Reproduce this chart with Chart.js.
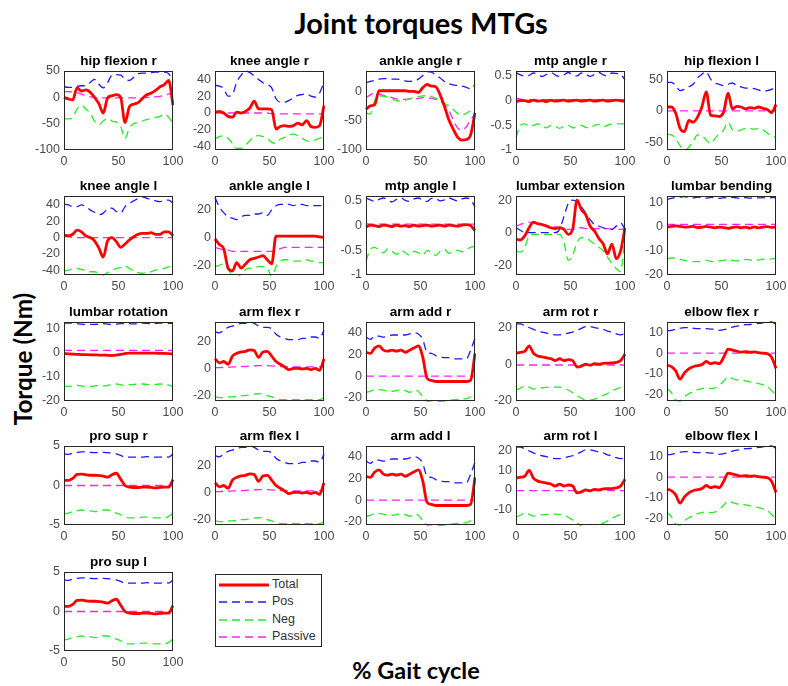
<!DOCTYPE html>
<html>
<head>
<meta charset="utf-8">
<title>Joint torques MTGs</title>
<script src="https://cdn.jsdelivr.net/npm/chart.js@4.4.1/dist/chart.umd.min.js"></script>
<style>
    body { margin: 0; background: #fff; }
    #figure { position: relative; width: 788px; height: 686px; overflow: hidden; background: #fff; }
    #figure canvas { position: absolute; }
    .label { position: absolute; font-family: Lato, "Open Sans", sans-serif; font-weight: bold; color: #000; white-space: nowrap; line-height: 1; }
    #figTitle { left: 421px; top: 8px; font-size: 29px; transform: translateX(-50%); }
    #xLabel { left: 416px; top: 659px; font-size: 23.5px; transform: translateX(-50%); }
    #yLabel { left: 23px; top: 359px; font-size: 24.3px; transform: translate(-50%, -50%) rotate(-90deg); }
    #legend { position: absolute; left: 215px; top: 574px; width: 107px; height: 73px; box-sizing: border-box; border: 1px solid #262626; background: #fff; }
    .legend-row { position: absolute; left: 0; height: 17px; width: 105px; }
    .legend-row svg { position: absolute; left: 2px; top: 0; }
    .legend-row span { position: absolute; left: 56px; top: 1px; font-family: "Liberation Sans", Arial, sans-serif; font-size: 12.5px; color: #333; line-height: 15px; }
</style>
</head>
<body>
<div id="figure">
    <div id="figTitle" class="label">Joint torques MTGs</div>
    <div id="xLabel" class="label">% Gait cycle</div>
    <div id="yLabel" class="label">Torque (Nm)</div>
    <div id="legend"></div>
</div>
<script>
// gait cycle samples, every 4 %
const gaitPct = [0, 4, 8, 12, 16, 20, 24, 28, 32, 36, 40, 44, 48, 52, 56, 60, 64, 68, 72, 76, 80, 84, 88, 92, 96, 100];

const hipFlexRTotal = [0, -3, -5, 18, 12, 14, 10, 0, -12, -30, -1, 3, 5, 0, -48, -18, -13, -10, -2, 5, 8, 13, 20, 24, 32, -15];
const hipFlexRPos = [20, 19, 19, 21, 22, 22, 28, 34, 25, 18, 28, 42, 43, 42, 35, 32, 38, 45, 46, 46, 47, 48, 48, 48, 45, 28];
const hipFlexRNeg = [-41, -41, -38, -22, -15, -22, -30, -45, -52, -45, -40, -45, -47, -55, -78, -58, -50, -48, -45, -42, -40, -38, -36, -32, -38, -50];
const hipFlexRPassive = [11, 11, 10, 9, 6, 3, 1, 0, -1, -1, -1, -1, -1, -1, -1, -1, -1, -1, -1, 0, 0, 1, 2, 4, 6, 8];

const kneeRTotal = [1, 2, 0, -4, -5, 1, 0, 2, 6, 14, 5, 5, 5, 4, -19, -16, -15, -16, -15, -12, -14, -9, -16, -17, -15, 9];
const kneeRPos = [33, 32, 29, 20, 22, 37, 45, 50, 48, 44, 40, 36, 34, 30, 17, 13, 13, 15, 18, 21, 22, 23, 20, 19, 24, 37];
const kneeRNeg = [-31, -28, -27, -30, -36, -42, -42, -38, -33, -28, -27, -28, -30, -35, -36, -31, -29, -26, -25, -27, -30, -33, -34, -32, -30, -27];
const kneeRPassive = [0, 0, 0, 0, 0, 0, 0, 0, 0, 0, 0, 0, 0, -1, -1, -1, -1, -1, -1, -1, -1, -1, -1, -1, -1, -1];

const ankleRTotal = [-30, -24, -22, 2, 2, 2, 2, 2, 2, 2, 1, 1, -1, 7, 13, 10, 9, -5, -25, -48, -64, -78, -83, -82, -74, -36];
const ankleRPos = [16, 18, 20, 22, 23, 23, 22, 22, 21, 19, 18, 19, 22, 28, 35, 34, 29, 24, 18, 14, 12, 11, 10, 8, 5, 13];
const ankleRNeg = [-36, -38, -15, -7, -7, -9, -12, -15, -16, -14, -12, -10, -8, -7, -6, -8, -11, -15, -20, -24, -30, -37, -40, -37, -32, -28];
const ankleRPassive = [-10, -5, -2, -4, -6, -8, -10, -12, -13, -13, -12, -12, -11, -10, -10, -11, -13, -16, -22, -32, -48, -62, -66, -60, -48, -38];

const mtpRTotal = [-0.02, 0, 0, -0.02, 0.01, -0.01, 0, -0.02, 0.01, -0.01, 0, 0.01, -0.01, 0, 0.01, -0.01, 0, 0.01, -0.01, 0, 0.01, -0.01, 0, 0.01, 0, -0.02];
const mtpRPos = [0.57, 0.52, 0.5, 0.51, 0.56, 0.53, 0.49, 0.53, 0.57, 0.52, 0.49, 0.52, 0.57, 0.52, 0.5, 0.56, 0.54, 0.49, 0.53, 0.57, 0.52, 0.5, 0.56, 0.55, 0.53, 0.42];
const mtpRNeg = [-0.75, -0.5, -0.47, -0.52, -0.5, -0.47, -0.52, -0.55, -0.5, -0.52, -0.56, -0.52, -0.5, -0.55, -0.53, -0.5, -0.54, -0.55, -0.5, -0.48, -0.53, -0.5, -0.47, -0.47, -0.47, -0.47];
const mtpRPassive = [0.05, 0.03, 0.02, 0.02, 0.02, 0.02, 0.02, 0.02, 0.02, 0.02, 0.02, 0.02, 0.02, 0.02, 0.02, 0.02, 0.02, 0.02, 0.02, 0.02, 0.02, 0.02, 0.02, 0.02, 0.02, 0.02];

const hipFlexLTotal = [6, 6, -4, -28, -33, -15, -18, -10, 6, 30, -7, -8, -9, -2, 28, 3, 7, 6, 3, 5, 4, 6, 4, 2, -3, 10];
const hipFlexLPos = [45, 45, 40, 32, 34, 38, 42, 52, 58, 62, 50, 44, 42, 40, 42, 44, 40, 38, 36, 36, 35, 33, 31, 32, 34, 38];
const hipFlexLNeg = [-37, -38, -44, -55, -62, -58, -48, -38, -40, -46, -52, -44, -36, -30, -18, -30, -32, -30, -28, -28, -29, -28, -30, -35, -40, -42];
const hipFlexLPassive = [0, 0, 0, 0, 0, 0, 0, 0, 0, 0, 0, 0, 0, 0, 0, 0, 0, 0, 0, 0, 0, 0, 0, 0, 0, 0];

const kneeLTotal = [3, 2, 4, 9, 7, 2, 0, -4, -13, -24, -4, 0, -5, -12, -8, -3, 1, 4, 5, 5, 6, 4, 4, 7, 7, 2];
const kneeLPos = [41, 40, 38, 38, 40, 38, 34, 31, 28, 30, 35, 36, 32, 30, 38, 42, 45, 48, 50, 48, 47, 45, 44, 46, 46, 42];
const kneeLNeg = [-41, -40, -39, -38, -39, -41, -42, -42, -44, -46, -43, -40, -38, -37, -35, -38, -41, -43, -44, -43, -42, -40, -39, -38, -36, -35];
const kneeLPassive = [1, 1, 0, 0, 0, 0, 0, 0, 0, 0, 0, 0, 0, 0, 0, 0, 0, 0, 0, 0, 0, 0, 0, 0, 0, 0];

const ankleLTotal = [-1, -5, -8, -22, -24, -18, -22, -19, -16, -15, -14, -13, -16, -19, 1, 1, 1, 1, 1, 1, 1, 1, 1, 1, 0.5, 0];
const ankleLPos = [29, 22, 18, 15, 14, 13, 15, 16, 16, 17, 17, 18, 16, 20, 23, 24, 24, 24, 23, 24, 24, 23, 23, 23, 23, 23];
const ankleLNeg = [-21, -20, -19, -23, -27, -29, -26, -23, -22, -22, -21, -21, -22, -28, -21, -17, -16, -16, -17, -17, -17, -16, -17, -17, -18, -18];
const ankleLPassive = [-7, -8, -9, -9, -10, -10, -10, -10, -10, -10, -10, -10, -10, -10, -9, -8, -7, -7, -7, -7, -7, -7, -7, -7, -7, -7];

const mtpLTotal = [-0.03, 0.01, 0, -0.02, 0.01, 0, -0.02, 0.01, -0.01, 0, -0.02, 0.01, -0.01, 0, 0.01, -0.01, 0, 0.01, -0.01, 0.01, 0, -0.01, 0.01, 0.02, 0, -0.1];
const mtpLPos = [0.56, 0.52, 0.49, 0.53, 0.56, 0.51, 0.48, 0.53, 0.56, 0.51, 0.49, 0.54, 0.56, 0.51, 0.49, 0.55, 0.55, 0.5, 0.52, 0.56, 0.53, 0.5, 0.54, 0.56, 0.52, 0.38];
const mtpLNeg = [-0.72, -0.48, -0.44, -0.5, -0.55, -0.47, -0.52, -0.58, -0.5, -0.55, -0.6, -0.52, -0.55, -0.6, -0.5, -0.55, -0.6, -0.52, -0.48, -0.56, -0.52, -0.5, -0.53, -0.48, -0.44, -0.42];
const mtpLPassive = [0.04, 0.03, 0.03, 0.03, 0.03, 0.03, 0.03, 0.03, 0.03, 0.03, 0.03, 0.03, 0.03, 0.03, 0.03, 0.03, 0.03, 0.03, 0.03, 0.03, 0.03, 0.03, 0.03, 0.03, 0.03, 0.03];

const lumbarExtTotal = [-4, -4.5, -2, 3, 6.5, 5.5, 5, 4, 3, 2.5, 3, 2, -1, 2, 20, 14, 11, 4, 1, -3.5, -7, -13, -7, -16, -11, 3];
const lumbarExtPos = [3, 1.5, 0, 0, 0, 0, 0, 0, 0, 0, 2, 10, 18, 20, 19, 16, 12, 8, 5, 4, 3, 2, 2, 4, 6, 2];
const lumbarExtNeg = [-11, -12, -9, -2, -1, -1, -1, -1, -1, -1, -1, -6, -17, -14, -6, -3, -3, -5, -7, -9, -11, -15, -19, -22, -24, 0];
const lumbarExtPassive = [4, 5, 6, 6.5, 6, 5.5, 5, 4.5, 4, 3.5, 3, 2.5, 2, 2, 3, 3, 2.5, 2.5, 2.5, 2.5, 2.5, 2.5, 2, 2, 2, 2];

const lumbarBendTotal = [-0.3, 0, 0.2, 0, -0.3, -0.2, 0, -0.5, -0.3, 0, -0.3, -0.6, -0.3, -0.5, -0.8, -0.4, -0.2, -0.6, -0.3, -0.7, -0.2, -0.6, -0.3, -0.1, -0.4, -0.2];
const lumbarBendPos = [11, 11.5, 11.9, 12, 12.3, 11.9, 11.7, 12, 11.8, 11.6, 11.9, 11.7, 11.5, 11.8, 11.6, 11.9, 11.7, 11.5, 11.8, 11.6, 11.9, 11.7, 11.8, 11.6, 11.8, 11.8];
const lumbarBendNeg = [-13.5, -13, -13, -13.5, -14, -14.3, -14.5, -14.5, -14.3, -14, -14.3, -14.5, -14.2, -14, -13.8, -14, -14.2, -14, -13.6, -13.8, -14, -13.8, -13.5, -13.6, -13.4, -13.2];
const lumbarBendPassive = [0.8, 0.8, 0.8, 0.8, 0.8, 0.8, 0.8, 0.8, 0.8, 0.8, 0.8, 0.8, 0.8, 0.8, 0.8, 0.8, 0.8, 0.8, 0.8, 0.8, 0.8, 0.8, 0.8, 0.8, 0.8, 0.8];

const lumbarRotTotal = [-0.5, -0.6, -0.7, -0.8, -0.9, -0.9, -1, -1, -1.1, -1.1, -1.2, -1.3, -1.1, -0.8, -0.5, -0.3, -0.3, -0.3, -0.3, -0.3, -0.3, -0.3, -0.4, -0.4, -0.5, -0.7];
const lumbarRotPos = [12, 12, 12, 11.8, 11.6, 11.5, 11.5, 11.5, 11.6, 11.8, 11.6, 11.5, 11.6, 11.8, 11.9, 11.8, 11.7, 11.8, 12, 11.9, 11.8, 11.9, 12, 12, 11.9, 11.9];
const lumbarRotNeg = [-14, -14, -13.8, -13.6, -13.8, -14, -14, -13.8, -13.6, -13.8, -13.6, -13.3, -13, -13.3, -13.6, -13.3, -13.2, -13, -13, -13.2, -13.3, -13.2, -13, -13.1, -13.5, -14];
const lumbarRotPassive = [0.8, 0.8, 0.8, 0.8, 0.8, 0.8, 0.8, 0.8, 0.8, 0.8, 0.8, 0.8, 0.8, 0.8, 0.8, 0.8, 0.8, 0.8, 0.8, 0.8, 0.8, 0.8, 0.8, 0.8, 0.8, 0.8];

// arm joints: right and left sides give the same curves
const armFlexTotal = [7, 4, 5, 3, 9, 11, 12, 12.5, 13.5, 13, 8, 12, 12.5, 9, 5, 3, 1, -1, 0, 0, -0.5, 0, -1, 0, -1.5, 7];
const armFlexPos = [27, 26, 28, 30, 31, 32, 33, 33, 34, 33, 31, 30, 30, 29, 25, 23, 22, 21, 21, 21, 22, 22, 23, 23, 22, 28];
const armFlexNeg = [-21, -21.5, -21.5, -21, -21, -20.5, -20, -20, -19.5, -19, -18.6, -19, -20, -21, -22, -23, -23, -23, -23, -23, -23, -23, -23, -23, -23, -21.5];
const armFlexPassive = [0.5, 0.5, 0.7, 0.8, 1, 1, 1.2, 1.4, 1.6, 1.8, 2, 2, 2, 1.8, 1.5, 1.3, 1.2, 1, 1, 1, 1, 1, 1, 1, 1, 1];

const armAddTotal = [22, 21, 26, 28, 24, 23, 24, 23, 24, 22, 24, 26, 28, 18, -2, -4, -5, -5, -5, -5, -5, -5, -5, -5, -4, 21];
const armAddPos = [36, 34, 37, 37, 36, 37, 38, 38, 38, 38, 39, 40, 39, 34, 22, 21, 19, 18, 17, 17, 16, 16, 16, 16, 24, 35];
const armAddNeg = [-15, -14, -12.5, -12.5, -13, -13.5, -14, -13.5, -12.5, -13.5, -15, -13, -14, -19, -23, -24, -24, -23.5, -23, -22.5, -22, -21.5, -21, -21, -19, -16];
const armAddPassive = [0, 0, 0, 0, 0, 0, 0, 0, 0, 0, 0, 0, 0, 0, 0, 0, 0, 0, 0, 0, 0, 0, 0, 0, 0, 0];

const armRotTotal = [6, 6.5, 7, 10, 6, 4.5, 4, 3.5, 3, 2, 3, 2, 2.5, 2, -1.5, -1, 0, -0.5, 0.3, 0, 0.5, 0.6, 0.7, 1, 2, 5.5];
const armRotPos = [22, 22, 21, 20, 19, 18, 17.5, 17, 16.5, 16, 16, 16.5, 17, 17.5, 18.5, 19.5, 20.5, 20.5, 20, 19.5, 19, 18, 17.5, 16.5, 16, 17];
const armRotNeg = [-14, -13, -12, -12.5, -13.5, -13, -12.8, -12.6, -12.5, -12.4, -12.5, -13, -14, -15.5, -17, -18.5, -19.4, -19.5, -19, -18, -17, -16, -14.5, -13.5, -12.5, -11.3];
const armRotPassive = [-0.4, -0.4, -0.4, -0.4, -0.4, -0.4, -0.4, -0.4, -0.4, -0.4, -0.4, -0.4, -0.4, -0.4, -0.4, -0.4, -0.4, -0.4, -0.4, -0.4, -0.4, -0.4, -0.4, -0.4, -0.4, -0.4];

const elbowFlexTotal = [-5.7, -6.5, -8.5, -12.5, -9.5, -7.5, -6.5, -6, -5.5, -4, -5, -4.5, -5, -2, 2, 1.5, 1, 0.5, 0.7, 0.5, 0.6, 0.3, 0, -0.2, -2, -7.3];
const elbowFlexPos = [10.8, 11, 11.5, 12, 12.3, 12.3, 12, 11.8, 11.8, 11.8, 11.6, 11.5, 11, 11.3, 11.8, 12.5, 13, 13.5, 13.7, 13.8, 14, 14.3, 14.6, 15, 15, 13.8];
const elbowFlexNeg = [-17, -19, -22.5, -23, -21, -19.5, -18.5, -17.5, -17, -16.8, -17, -16.8, -15.5, -13.5, -11.5, -12.2, -12.8, -13, -13.3, -13.8, -14.2, -14.6, -15.2, -16, -18, -20];
const elbowFlexPassive = [0, 0, 0, 0, 0, 0, 0, 0, 0, 0, 0, 0, 0, 0, 0, 0, 0, 0, 0, 0, 0, 0, 0, 0, 0, 0];

const proSupTotal = [0.65, 0.65, 0.9, 1.4, 1.45, 1.35, 1.3, 1.3, 1.25, 1.2, 1.05, 1.35, 1.55, 0.8, 0, -0.2, -0.25, -0.25, -0.2, -0.2, -0.25, -0.3, -0.25, -0.2, -0.2, 0.75];
const proSupPos = [4, 3.95, 4.1, 4.2, 4.25, 4.25, 4.2, 4.15, 4.15, 4.2, 4.15, 4.1, 4, 3.8, 3.6, 3.6, 3.6, 3.6, 3.6, 3.65, 3.6, 3.6, 3.6, 3.65, 3.6, 4];
const proSupNeg = [-3.6, -3.5, -3.3, -3.2, -3.1, -3.2, -3.2, -3.3, -3.25, -3.1, -3.1, -3.3, -3.5, -3.7, -4, -4.1, -4.1, -4.1, -4, -4, -4.05, -4.1, -4.1, -4.1, -3.9, -3.5];
const proSupPassive = [0, 0, 0, 0, 0, 0, 0, 0, 0, 0, 0, 0, 0, 0, 0, 0, 0, 0, 0, 0, 0, 0, 0, 0, 0, 0];

// one entry per subplot, in row order
const jointNames = [
    "hip flexion r", "knee angle r", "ankle angle r", "mtp angle r", "hip flexion l",
    "knee angle l", "ankle angle l", "mtp angle l", "lumbar extension", "lumbar bending",
    "lumbar rotation", "arm flex r", "arm add r", "arm rot r", "elbow flex r",
    "pro sup r", "arm flex l", "arm add l", "arm rot l", "elbow flex l",
    "pro sup l"
];
const totalSeries = [hipFlexRTotal, kneeRTotal, ankleRTotal, mtpRTotal, hipFlexLTotal, kneeLTotal, ankleLTotal, mtpLTotal, lumbarExtTotal, lumbarBendTotal, lumbarRotTotal, armFlexTotal, armAddTotal, armRotTotal, elbowFlexTotal, proSupTotal, armFlexTotal, armAddTotal, armRotTotal, elbowFlexTotal, proSupTotal];
const posSeries = [hipFlexRPos, kneeRPos, ankleRPos, mtpRPos, hipFlexLPos, kneeLPos, ankleLPos, mtpLPos, lumbarExtPos, lumbarBendPos, lumbarRotPos, armFlexPos, armAddPos, armRotPos, elbowFlexPos, proSupPos, armFlexPos, armAddPos, armRotPos, elbowFlexPos, proSupPos];
const negSeries = [hipFlexRNeg, kneeRNeg, ankleRNeg, mtpRNeg, hipFlexLNeg, kneeLNeg, ankleLNeg, mtpLNeg, lumbarExtNeg, lumbarBendNeg, lumbarRotNeg, armFlexNeg, armAddNeg, armRotNeg, elbowFlexNeg, proSupNeg, armFlexNeg, armAddNeg, armRotNeg, elbowFlexNeg, proSupNeg];
const passiveSeries = [hipFlexRPassive, kneeRPassive, ankleRPassive, mtpRPassive, hipFlexLPassive, kneeLPassive, ankleLPassive, mtpLPassive, lumbarExtPassive, lumbarBendPassive, lumbarRotPassive, armFlexPassive, armAddPassive, armRotPassive, elbowFlexPassive, proSupPassive, armFlexPassive, armAddPassive, armRotPassive, elbowFlexPassive, proSupPassive];

const yLimits = [
    [-100, 50], [-44, 50], [-100, 36], [-1, 0.6], [-62, 63],
    [-46, 51], [-27, 30], [-1, 0.6], [-26, 22.5], [-20, 12.5],
    [-20, 12.5], [-24, 34], [-23, 50], [-20, 23], [-23, 15],
    [-5, 5], [-24, 34], [-23, 50], [-18, 22.5], [-23, 15],
    [-5, 5]
];
const yTickValues = [
    [-100, -50, 0, 50], [-40, -20, 0, 20, 40], [-100, -50, 0], [-1, -0.5, 0, 0.5], [-50, 0, 50],
    [-40, -20, 0, 20, 40], [-20, 0, 20], [-1, -0.5, 0, 0.5], [-20, 0, 20], [-20, -10, 0, 10],
    [-20, -10, 0, 10], [-20, 0, 20], [-20, 0, 20, 40], [-20, 0, 20], [-20, -10, 0, 10],
    [-5, 0, 5], [-20, 0, 20], [-20, 0, 20, 40], [-10, 0, 10, 20], [-20, -10, 0, 10],
    [-5, 0, 5]
];
const xTickValues = [0, 50, 100];

const seriesStyles = [
    { label: "Total", color: "#ff0000", width: 2.8, dash: [] },
    { label: "Pos", color: "#1a1aff", width: 1.3, dash: [8, 5] },
    { label: "Neg", color: "#22ee22", width: 1.3, dash: [8, 5] },
    { label: "Passive", color: "#ff22ff", width: 1.3, dash: [8, 5] }
];

// subplot grid geometry (plot box corners, px)
const COL_X = [64, 215, 366, 516, 667];
const ROW_Y = [71, 196, 322, 446, 572];
const PLOT_W = 109;
const PLOT_H = 79;
const SIDE = 46;      // room for y tick labels on the left, spare room on the right
const TITLE_H = 17;
const XAXIS_H = 22;

const TICK_FONT = { family: "'Liberation Sans', Arial, sans-serif", size: 12.5 };
const TICK_COLOR = "#4a4a4a";

// draws the closed box around each axes
const axesBox = {
    id: "axesBox",
    afterDatasetsDraw(chart) {
        const { ctx, chartArea: a } = chart;
        ctx.save();
        ctx.strokeStyle = "#262626";
        ctx.lineWidth = 1;
        ctx.strokeRect(Math.round(a.left) + 0.5, Math.round(a.top) + 0.5, Math.round(a.width) - 1, Math.round(a.height) - 1);
        ctx.restore();
    }
};

function makeSubplot(i) {
    const fig = document.getElementById("figure");
    const canvas = document.createElement("canvas");
    const col = i % 5;
    const row = Math.floor(i / 5);
    canvas.width = PLOT_W + 2 * SIDE;
    canvas.height = TITLE_H + PLOT_H + XAXIS_H;
    canvas.style.left = (COL_X[col] - SIDE) + "px";
    canvas.style.top = (ROW_Y[row] - TITLE_H) + "px";
    fig.appendChild(canvas);

    const series = [totalSeries[i], posSeries[i], negSeries[i], passiveSeries[i]];
    const datasets = seriesStyles.map((s, k) => ({
        label: s.label,
        data: series[k],
        borderColor: s.color,
        borderWidth: s.width,
        borderDash: s.dash,
        pointRadius: 0,
        fill: false,
        clip: 1,
        cubicInterpolationMode: "monotone"
    }));

    const ticksY = yTickValues[i];

    new Chart(canvas, {
        type: "line",
        data: { labels: gaitPct, datasets },
        options: {
            responsive: false,
            animation: false,
            devicePixelRatio: 1,
            events: [],
            layout: { padding: { left: 0, right: SIDE, top: 0, bottom: 0 } },
            plugins: {
                legend: { display: false },
                tooltip: { enabled: false },
                title: {
                    display: true,
                    fullSize: false,   // centre the title over the plot box only
                    text: jointNames[i],
                    color: "#000",
                    font: { family: "'Liberation Sans', Arial, sans-serif", size: 13.5, weight: "bold", lineHeight: "14px" },
                    padding: { top: 0, bottom: 3 }
                }
            },
            scales: {
                x: {
                    type: "linear",
                    min: 0,
                    max: 100,
                    grid: { display: false, drawTicks: false },
                    border: { display: false },
                    ticks: { font: TICK_FONT, color: TICK_COLOR, padding: 4, maxRotation: 0, autoSkip: false },
                    afterBuildTicks: (scale) => { scale.ticks = xTickValues.map(v => ({ value: v })); },
                    afterFit: (scale) => { scale.height = XAXIS_H; }
                },
                y: {
                    min: yLimits[i][0],
                    max: yLimits[i][1],
                    grid: { display: false, drawTicks: false },
                    border: { display: false },
                    ticks: { font: TICK_FONT, color: TICK_COLOR, padding: 4, autoSkip: false, callback: v => String(v) },
                    afterBuildTicks: (scale) => { scale.ticks = ticksY.map(v => ({ value: v })); },
                    afterFit: (scale) => { scale.width = SIDE; }
                }
            }
        },
        plugins: [axesBox]
    });
}

function buildLegend() {
    const box = document.getElementById("legend");
    seriesStyles.forEach((s, k) => {
        const row = document.createElement("div");
        row.className = "legend-row";
        row.style.top = (1 + k * 17.4) + "px";
        row.innerHTML = `
            <svg width="52" height="17"><line x1="1" y1="9" x2="51" y2="9" stroke="${s.color}"
                stroke-width="${s.width}" stroke-dasharray="${s.dash.join(" ")}"/></svg>
            <span>${s.label}</span>`;
        box.appendChild(row);
    });
}

jointNames.forEach((_, i) => makeSubplot(i));
buildLegend();
</script>
</body>
</html>
